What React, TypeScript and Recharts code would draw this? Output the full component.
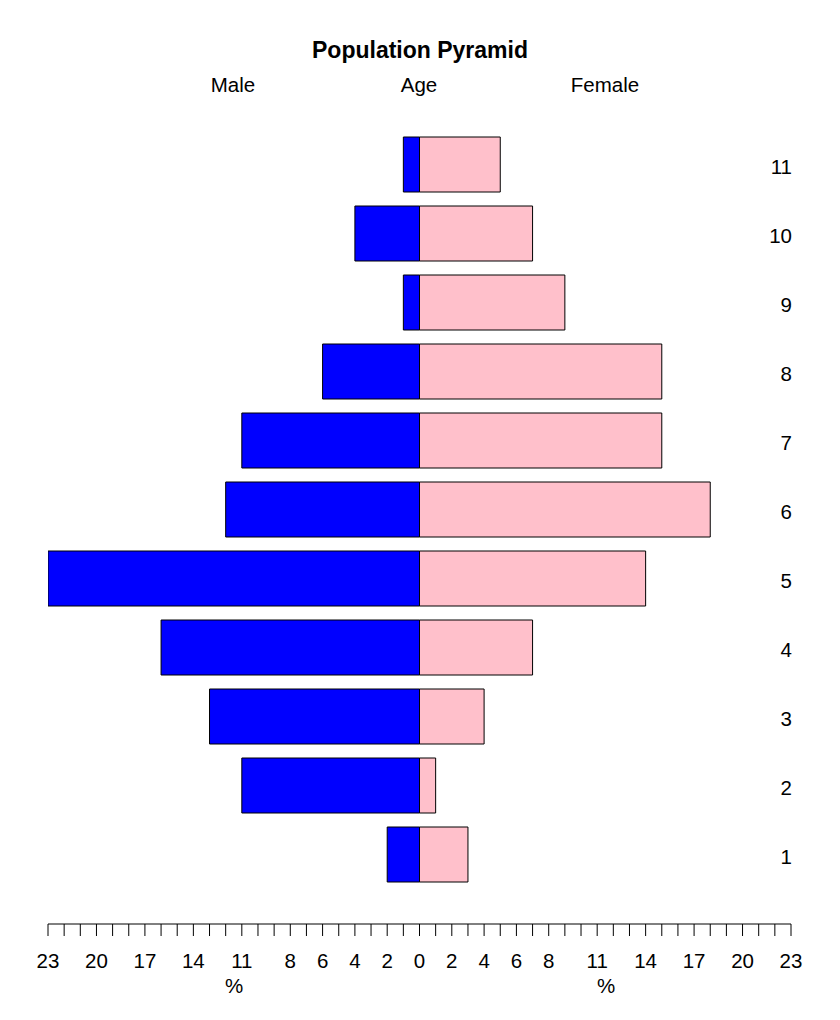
import React from "react";
import { BarChart, Bar, XAxis, YAxis } from "recharts";

// Age groups from top to bottom
const ages = ["11", "10", "9", "8", "7", "6", "5", "4", "3", "2", "1"];
const malePercent = [1, 4, 1, 6, 11, 12, 23, 16, 13, 11, 2];
const femalePercent = [5, 7, 9, 15, 15, 18, 14, 7, 4, 1, 3];

const axisMin = -23;
const axisMax = 23;
const labeledTicks = [-23, -20, -17, -14, -11, -8, -6, -4, -2, 0, 2, 4, 6, 8, 11, 14, 17, 20, 23];
const allTicks: number[] = [];
for (let v = axisMin; v <= axisMax; v++) allTicks.push(v);

const data = ages.map((age, i) => ({
  age,
  male: -malePercent[i],
  female: femalePercent[i],
}));

const FONT = '"Liberation Sans", Arial, Helvetica, sans-serif';

const XTick = (props: any) => {
  const { x, y, payload } = props;
  const v = payload.value;
  if (!labeledTicks.includes(v)) return null;
  return (
    <text x={x} y={y + 32} textAnchor="middle" fontFamily={FONT} fontSize={20.5} fill="#000">
      {Math.abs(v)}
    </text>
  );
};

const AgeTick = (props: any) => {
  const { x, y, payload } = props;
  return (
    <text x={x + 1} y={y + 9} textAnchor="end" fontFamily={FONT} fontSize={20.5} fill="#000">
      {payload.value}
    </text>
  );
};

const textStyle = (left: number, top: number, size: number, bold = false): React.CSSProperties => ({
  position: "absolute",
  left,
  top,
  transform: "translate(-50%, -50%)",
  fontFamily: FONT,
  fontSize: size,
  fontWeight: bold ? "bold" : "normal",
  color: "#000",
  whiteSpace: "nowrap",
  lineHeight: 1,
});

export default function App() {
  return (
    <div style={{ position: "absolute", left: 0, top: 0, width: 840, height: 1020, background: "#fff" }}>
      <BarChart
        width={840}
        height={1020}
        data={data}
        layout="vertical"
        stackOffset="sign"
        barSize={55}
        margin={{ top: 130, right: 0, bottom: 0, left: 48 }}
      >
        <XAxis
          type="number"
          domain={[axisMin, axisMax]}
          ticks={allTicks}
          interval={0}
          allowDataOverflow
          height={96}
          tickSize={12}
          tickMargin={0}
          axisLine={{ stroke: "#000", strokeWidth: 1 }}
          tickLine={{ stroke: "#000", strokeWidth: 1 }}
          tick={<XTick />}
        />
        <YAxis
          type="category"
          dataKey="age"
          orientation="right"
          width={49}
          axisLine={false}
          tickLine={false}
          tickSize={0}
          tickMargin={0}
          interval={0}
          padding={{ top: 0, bottom: 35 }}
          tick={<AgeTick />}
        />
        <Bar dataKey="male" stackId="a" fill="#0000FF" stroke="#000" strokeWidth={1} isAnimationActive={false} />
        <Bar dataKey="female" stackId="a" fill="#FFC0CB" stroke="#000" strokeWidth={1} isAnimationActive={false} />
      </BarChart>
      <div style={textStyle(420, 50, 23, true)}>Population Pyramid</div>
      <div style={textStyle(233, 85, 20.5)}>Male</div>
      <div style={textStyle(419, 85, 20.5)}>Age</div>
      <div style={textStyle(605, 85, 20.5)}>Female</div>
      <div style={textStyle(234, 986, 20.5)}>%</div>
      <div style={textStyle(606, 986, 20.5)}>%</div>
    </div>
  );
}
